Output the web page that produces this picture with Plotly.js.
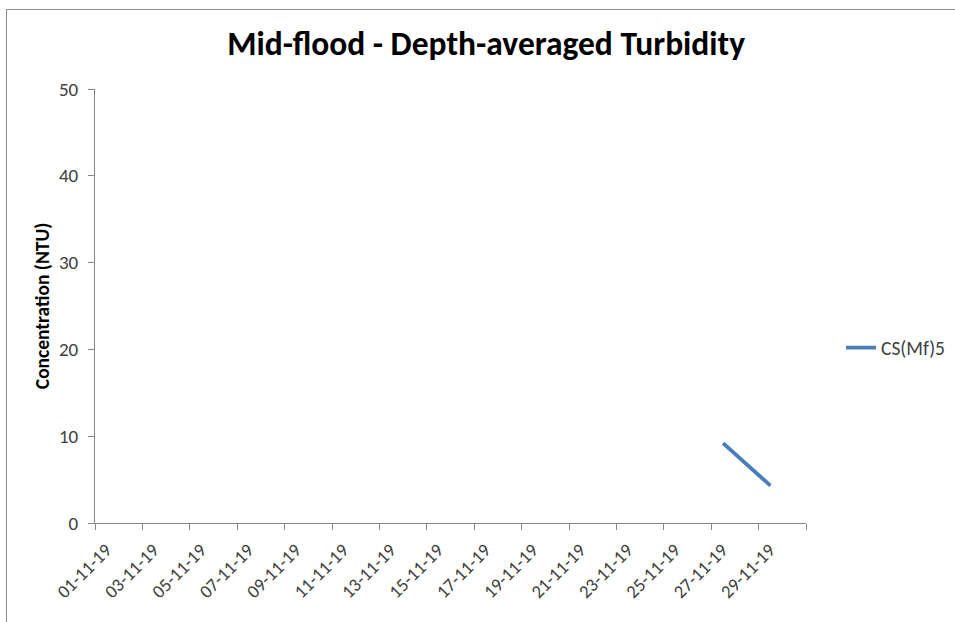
<!DOCTYPE html>
<html>
<head>
<meta charset="utf-8">
<script src="https://cdn.plot.ly/plotly-3.0.1.min.js"></script>
<style>
  html, body { margin: 0; padding: 0; background: #fff; }
  #wrap { position: relative; width: 955px; height: 622px; overflow: hidden; }
  #chart { position: absolute; left: 0; top: 0; width: 955px; height: 622px; }
  #frame { position: absolute; left: 6px; top: 9px; width: 1000px; height: 700px; border: 1px solid #8c8c8c; pointer-events: none; }
</style>
</head>
<body>
<div id="wrap">
  <div id="chart"></div>
  <div id="frame"></div>
</div>
<script>
// ---- data ----
const seriesName = 'CS(Mf)5';
const sampleDates = ['2019-11-27', '2019-11-29'];
const concentration = [9.2, 4.3];
const tickLabels = ['01-11-19','03-11-19','05-11-19','07-11-19','09-11-19','11-11-19','13-11-19',
                    '15-11-19','17-11-19','19-11-19','21-11-19','23-11-19','25-11-19','27-11-19','29-11-19'];
const axisStart = '2019-10-31 12:00';
const axisEnd = '2019-11-30 12:00';

// tick boundaries (Excel places date labels at day-slot boundaries)
function labelToBoundary(lbl) {
  const [d, m, y] = lbl.split('-').map(Number);
  const t = Date.UTC(2000 + y, m - 1, d) - 12 * 3600 * 1000;
  return new Date(t).toISOString().replace('T', ' ').slice(0, 16);
}
const tickVals = tickLabels.map(labelToBoundary).concat([axisEnd]);
const tickText = tickLabels.concat(['']);

const font = 'Calibri, Carlito, "Open Sans", "Liberation Sans", sans-serif';
const axisGray = '#868686';
const labelGray = '#404040';

const trace = {
  x: sampleDates,
  y: concentration,
  type: 'scatter',
  mode: 'lines',
  name: seriesName,
  line: { color: '#4a7ebb', width: 3.75 },
  showlegend: true
};

const layout = {
  width: 955,
  height: 622,
  margin: { l: 95, r: 149, t: 89, b: 99, pad: 0, autoexpand: false },
  paper_bgcolor: '#ffffff',
  plot_bgcolor: '#ffffff',
  title: {
    text: '<b>Mid-flood - Depth-averaged Turbidity</b>',
    font: { family: font, size: 33.5, color: '#000000' },
    x: 0.509, xanchor: 'center', xref: 'container',
    y: 0.93, yanchor: 'middle', yref: 'container'
  },
  xaxis: {
    type: 'date',
    range: [axisStart, axisEnd],
    tickmode: 'array',
    tickvals: tickVals,
    ticktext: tickText,
    tickangle: -45,
    ticks: 'outside',
    ticklen: 6,
    tickcolor: axisGray,
    tickwidth: 1,
    showline: true,
    linecolor: axisGray,
    linewidth: 1,
    showgrid: false,
    zeroline: false,
    tickfont: { family: font, size: 18.5, color: labelGray },
    ticklabelshift: 11,
    ticklabelstandoff: 2,
    fixedrange: true
  },
  yaxis: {
    range: [0, 50],
    tickmode: 'linear',
    tick0: 0,
    dtick: 10,
    ticks: 'outside',
    ticklen: 6,
    tickcolor: axisGray,
    tickwidth: 1,
    showline: true,
    linecolor: axisGray,
    linewidth: 1,
    showgrid: false,
    zeroline: false,
    tickfont: { family: font, size: 19, color: labelGray },
    ticklabelstandoff: 6,
    title: {
      text: '<b>Concentration (NTU)</b>',
      font: { family: font, size: 19.5, color: '#000000' },
      standoff: 4
    },
    fixedrange: true
  },
  legend: {
    xref: 'container',
    yref: 'container',
    x: 841 / 955,
    xanchor: 'left',
    y: (622 - 348) / 622,
    yanchor: 'middle',
    font: { family: font, size: 19.5, color: labelGray },
    bgcolor: 'rgba(0,0,0,0)',
    borderwidth: 0
  },
  showlegend: true
};

Plotly.newPlot('chart', [trace], layout, { displayModeBar: false, staticPlot: true });
</script>
</body>
</html>
